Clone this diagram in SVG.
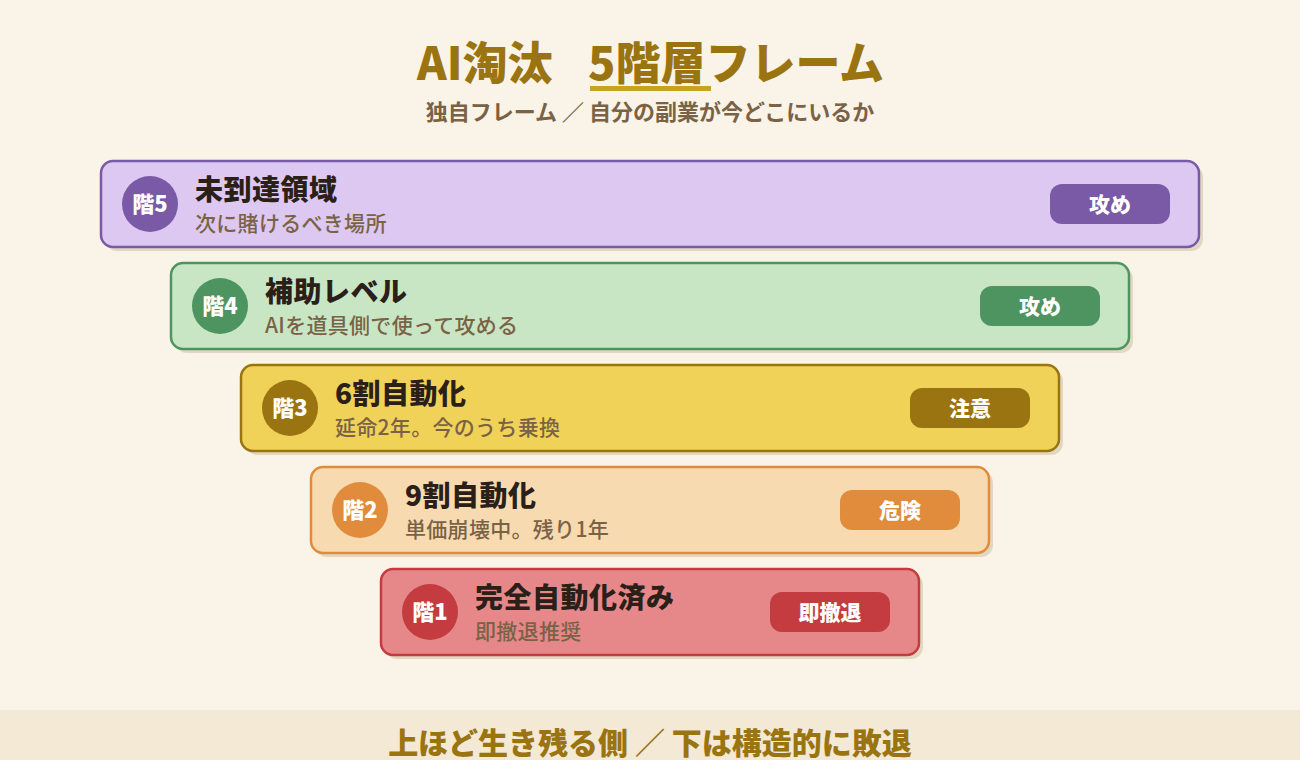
<svg xmlns="http://www.w3.org/2000/svg" width="1300" height="760" viewBox="0 0 1300 760">
<style>
text{font-family:"Noto Sans CJK JP","Noto Sans",sans-serif;}
.ttl{font-size:45px;font-weight:900;fill:#9a7410;}
.sub{font-size:22px;font-weight:700;fill:#7a6246;}
.shadow{fill:#e2d8c2;}
.name{font-size:28px;font-weight:900;fill:#2a2018;letter-spacing:0.5px;}
.desc{font-size:21px;font-weight:500;fill:#7a6246;letter-spacing:0.3px;}
.num{font-size:22px;font-weight:900;fill:#ffffff;text-anchor:middle;}
.badge{font-size:21px;font-weight:900;fill:#ffffff;text-anchor:middle;}
.foot{font-size:30px;font-weight:900;fill:#9a7410;text-anchor:middle;}
</style>
<rect width="1300" height="760" fill="#faf3e8"/>
<g id="title">
<text class="ttl" x="417" y="80">AI淘汰</text>
<text class="ttl" x="588" y="80">5階層フレーム</text>
<rect x="590" y="86" width="121" height="5" fill="#c9a21e"/>
<text class="sub" x="650" y="120" text-anchor="middle">独自フレーム ／ 自分の副業が今どこにいるか</text>
</g>
<g id="connectors"></g>
<g id="layer5">
<rect class="shadow" x="105" y="165" width="1098" height="86" rx="12"/>
<rect x="101" y="161" width="1098" height="86" rx="12" fill="#dcc8f0" stroke="#7a5aa6" stroke-width="2.5"/>
<circle cx="150" cy="204" r="28" fill="#7a5aa6"/>
<text class="num" x="150" y="212">階5</text>
<text class="name" x="195" y="200">未到達領域</text>
<text class="desc" x="195" y="231">次に賭けるべき場所</text>
<rect x="1050" y="184" width="120" height="40" rx="12" fill="#7a5aa6"/>
<text class="badge" x="1110" y="212">攻め</text>
</g>
<g id="layer4">
<rect class="shadow" x="175" y="267" width="958" height="86" rx="12"/>
<rect x="171" y="263" width="958" height="86" rx="12" fill="#c8e6c4" stroke="#4e9460" stroke-width="2.5"/>
<circle cx="220" cy="306" r="28" fill="#4e9460"/>
<text class="num" x="220" y="314">階4</text>
<text class="name" x="265" y="302">補助レベル</text>
<text class="desc" x="265" y="333">AIを道具側で使って攻める</text>
<rect x="980" y="286" width="120" height="40" rx="12" fill="#4e9460"/>
<text class="badge" x="1040" y="314">攻め</text>
</g>
<g id="layer3">
<rect class="shadow" x="245" y="369" width="818" height="86" rx="12"/>
<rect x="241" y="365" width="818" height="86" rx="12" fill="#f0d258" stroke="#9a7410" stroke-width="2.5"/>
<circle cx="290" cy="408" r="28" fill="#9a7410"/>
<text class="num" x="290" y="416">階3</text>
<text class="name" x="335" y="404">6割自動化</text>
<text class="desc" x="335" y="435">延命2年。今のうち乗換</text>
<rect x="910" y="388" width="120" height="40" rx="12" fill="#9a7410"/>
<text class="badge" x="970" y="416">注意</text>
</g>
<g id="layer2">
<rect class="shadow" x="315" y="471" width="678" height="86" rx="12"/>
<rect x="311" y="467" width="678" height="86" rx="12" fill="#f8dab0" stroke="#e08c3c" stroke-width="2.5"/>
<circle cx="360" cy="510" r="28" fill="#e08c3c"/>
<text class="num" x="360" y="518">階2</text>
<text class="name" x="405" y="506">9割自動化</text>
<text class="desc" x="405" y="537">単価崩壊中。残り1年</text>
<rect x="840" y="490" width="120" height="40" rx="12" fill="#e08c3c"/>
<text class="badge" x="900" y="518">危険</text>
</g>
<g id="layer1">
<rect class="shadow" x="385" y="573" width="538" height="86" rx="12"/>
<rect x="381" y="569" width="538" height="86" rx="12" fill="#e6888a" stroke="#c43c40" stroke-width="2.5"/>
<circle cx="430" cy="612" r="28" fill="#c43c40"/>
<text class="num" x="430" y="620">階1</text>
<text class="name" x="475" y="608">完全自動化済み</text>
<text class="desc" x="475" y="639">即撤退推奨</text>
<rect x="770" y="592" width="120" height="40" rx="12" fill="#c43c40"/>
<text class="badge" x="830" y="620">即撤退</text>
</g>
<g id="footer">
<rect x="0" y="710" width="1300" height="50" fill="#f3e9d4"/>
<text class="foot" x="650" y="754">上ほど生き残る側 ／ 下は構造的に敗退</text>
</g>
</svg>
